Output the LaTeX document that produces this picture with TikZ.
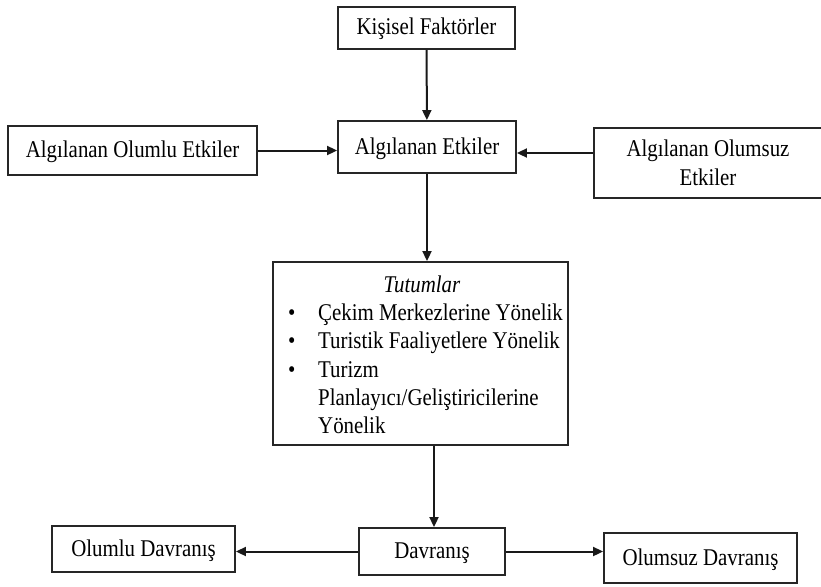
\documentclass[tikz,border=0pt]{standalone}
\usepackage{fontspec}
\setmainfont[FakeStretch=0.87]{Liberation Serif}
\usetikzlibrary{arrows.meta}
\begin{document}
\begin{tikzpicture}[x=1pt,y=-1pt,
  box/.style={draw=black!85, line width=1.9pt, inner sep=0pt, align=center,
    font=\fontsize{24}{29}\selectfont},
  one/.style={text height=18pt, text depth=4pt},
  arr/.style={draw=black!90, line width=2pt, -{Triangle[length=10pt,width=9pt]}},
  lbl/.style={inner sep=0pt, font=\fontsize{24}{28}\selectfont}]
\useasboundingbox (0,0) rectangle (821,586);
\node[box, one, minimum width=177pt, minimum height=42pt] (k) at (426.5,28) {Kişisel Faktörler};
\node[box, one, minimum width=178pt, minimum height=52pt] (e) at (427,147) {Algılanan Etkiler};
\node[box, one, minimum width=249pt, minimum height=49pt] (ol) at (132.5,150.5) {Algılanan Olumlu Etkiler};
\node[box, minimum width=228pt, minimum height=70pt] (om) at (708,163) {Algılanan Olumsuz\\Etkiler};
\node[box, minimum width=295pt, minimum height=183pt] (t) at (420.5,353.5) {};
\node[lbl, anchor=base, font=\fontsize{24}{28}\selectfont\itshape] (tt) at (422,292) {Tutumlar};
\node[lbl, anchor=base west] (l1) at (288,320) {\makebox[30pt][l]{\textbullet}Çekim Merkezlerine Yönelik};
\node[lbl, anchor=base west] (l2) at (288,348) {\makebox[30pt][l]{\textbullet}Turistik Faaliyetlere Yönelik};
\node[lbl, anchor=base west] (l3) at (288,377) {\makebox[30pt][l]{\textbullet}Turizm};
\node[lbl, anchor=base west] (l4) at (318,405) {Planlayıcı/Geliştiricilerine};
\node[lbl, anchor=base west] (l5) at (318,433) {Yönelik};
\node[box, one, minimum width=146pt, minimum height=47pt] (d) at (432,551.5) {Davranış};
\node[box, one, minimum width=183pt, minimum height=46pt] (od) at (143.5,549) {Olumlu Davranış};
\node[box, one, minimum width=193pt, minimum height=50pt] (sd) at (700.5,558) {Olumsuz Davranış};
\draw[arr] (k) -- (e);
\draw[arr] (ol.east) -- (ol.east -| e.west);
\draw[arr] ([yshift=10pt]om.west) -- ([yshift=10pt]om.west -| e.east);
\draw[arr] (e.south) -- (e.south |- t.north);
\draw[arr] ([xshift=2pt]t.south -| d.north) -- ([xshift=2pt]d.north);
\draw[arr] (d.west) -- (d.west -| od.east);
\draw[arr] (d.east) -- (d.east -| sd.west);
\end{tikzpicture}
\end{document}
